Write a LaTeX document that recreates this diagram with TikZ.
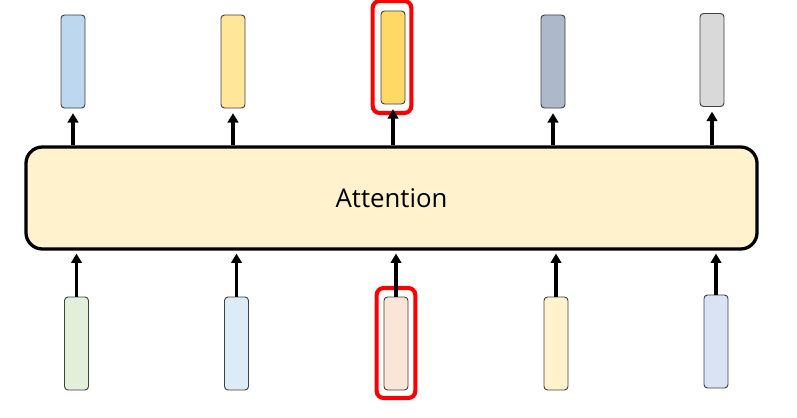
\documentclass[tikz,border=0pt]{standalone}
\usepackage{fontspec}
\setsansfont{Open Sans}
\usepackage{tikz}
\usetikzlibrary{positioning,arrows.meta}
\definecolor{bleuc}{HTML}{BDD7EE}
\definecolor{jaunec}{HTML}{FFE699}
\definecolor{jaunef}{HTML}{FFD966}
\definecolor{ardoise}{HTML}{ADB9CA}
\definecolor{grisc}{HTML}{D9D9D9}
\definecolor{vertc}{HTML}{E2EFDA}
\definecolor{bleupale}{HTML}{DDEBF7}
\definecolor{peche}{HTML}{FBE5D6}
\definecolor{creme}{HTML}{FFF2CC}
\definecolor{lavande}{HTML}{DAE3F3}
\definecolor{bord}{HTML}{404040}

\begin{document}
\begin{tikzpicture}[x=0.03cm, y=-0.03cm,
  vec/.style={rectangle, rounded corners=3pt, draw=bord, line width=0.8pt, fill=#1,
              minimum width=0.72cm, minimum height=2.79cm, inner sep=0pt},
  hl/.style={rectangle, rounded corners=6pt, draw=red, line width=3.5pt,
             minimum width=1.16cm, minimum height=#1, inner sep=0pt},
  arr/.style={-{Triangle[length=8pt,width=9pt]}, line width=2.6pt}]

\useasboundingbox (0,0) rectangle (797,417);

% ── bloc attention ──
\node[rectangle, rounded corners=14pt, draw=black, line width=2.8pt, fill=creme,
      minimum width=21.93cm, minimum height=3.06cm, font=\sffamily\fontsize{22}{26}\selectfont]
  (att) at (391.5,198) {Attention};

% ── sorties ──
\node[vec=bleuc]   (o1) at (73,61.5)  {};
\node[vec=jaunec]  (o2) at (233,61.5) {};
\node[vec=jaunef]  (o3) at (393,57.5) {};
\node[vec=ardoise] (o4) at (553,61.5) {};
\node[vec=grisc]   (o5) at (712,60)   {};
\node[hl=3.36cm]   (hlo) at (392,57)  {};

% ── entrées ──
\node[vec=vertc]    (i1) at (76.5,343.5) {};
\node[vec=bleupale] (i2) at (236.5,343.5) {};
\node[vec=peche]    (i3) at (396,343.5) {};
\node[vec=creme]    (i4) at (556,343.5) {};
\node[vec=lavande]  (i5) at (716,341.5) {};
\node[hl=3.3cm]     (hli) at (396,343) {};

% ── flèches ──
\foreach \k in {1,...,5}{
  \draw[arr, shorten >=4pt] (att.north -| o\k) -- (o\k.south);
  \draw[arr, shorten >=2.5pt] (i\k.north) -- (att.south -| i\k);
}

\end{tikzpicture}
\end{document}
